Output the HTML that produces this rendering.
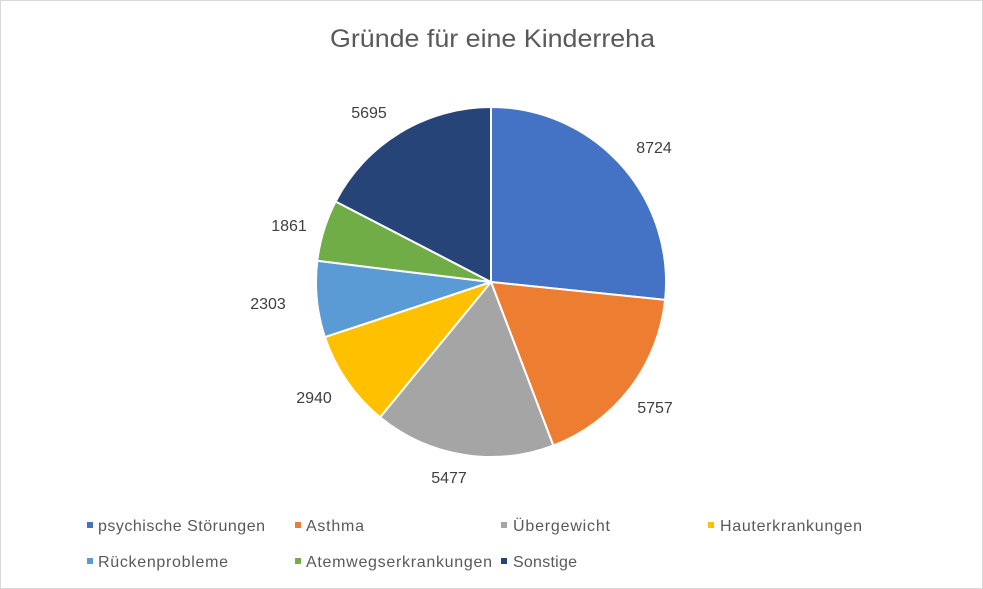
<!DOCTYPE html>
<html><head><meta charset="utf-8"><style>
body{margin:0;background:#fff;}
svg{display:block;font-family:"Liberation Sans",sans-serif;}
</style></head><body>
<svg width="983" height="589" viewBox="0 0 983 589">
<rect x="0.5" y="0.5" width="982" height="588" fill="#fff" stroke="#d9d9d9"/>
<text x="330" y="47" font-size="25" fill="#595959" textLength="325" lengthAdjust="spacingAndGlyphs">Gründe für eine Kinderreha</text>
<g stroke="#fff" stroke-width="2" stroke-linejoin="round">
<path d="M491,282 L491,107 A175,175 0 0 1 665.1,299.9 Z" fill="#4472C4"/>
<path d="M491,282 L665.1,299.9 A175,175 0 0 1 553.3,445.5 Z" fill="#ED7D31"/>
<path d="M491,282 L553.3,445.5 A175,175 0 0 1 380.1,417.3 Z" fill="#A5A5A5"/>
<path d="M491,282 L380.1,417.3 A175,175 0 0 1 324.9,337.1 Z" fill="#FFC000"/>
<path d="M491,282 L324.9,337.1 A175,175 0 0 1 317.3,260.8 Z" fill="#5B9BD5"/>
<path d="M491,282 L317.3,260.8 A175,175 0 0 1 335.6,201.5 Z" fill="#70AD47"/>
<path d="M491,282 L335.6,201.5 A175,175 0 0 1 491,107 Z" fill="#264478"/>
</g>
<g font-size="16" fill="#404040" text-anchor="middle">
<text x="654" y="153">8724</text>
<text x="655" y="413">5757</text>
<text x="449" y="483">5477</text>
<text x="314" y="403">2940</text>
<text x="268" y="309">2303</text>
<text x="289" y="231">1861</text>
<text x="369" y="118">5695</text>
</g>
<g font-size="16" fill="#595959" lengthAdjust="spacingAndGlyphs">
<rect x="87" y="522" width="6" height="6" fill="#4472C4"/><text x="98" y="531" textLength="167">psychische Störungen</text>
<rect x="295" y="522" width="6" height="6" fill="#ED7D31"/><text x="306" y="531" textLength="58">Asthma</text>
<rect x="501" y="522" width="6" height="6" fill="#A5A5A5"/><text x="513" y="531" textLength="97">Übergewicht</text>
<rect x="708" y="522" width="6" height="6" fill="#FFC000"/><text x="720" y="531" textLength="142">Hauterkrankungen</text>
<rect x="87" y="558" width="6" height="6" fill="#5B9BD5"/><text x="98" y="567" textLength="130">Rückenprobleme</text>
<rect x="295" y="558" width="6" height="6" fill="#70AD47"/><text x="306" y="567" textLength="186">Atemwegserkrankungen</text>
<rect x="501" y="558" width="6" height="6" fill="#264478"/><text x="513" y="567" textLength="64">Sonstige</text>
</g>
</svg>
</body></html>
